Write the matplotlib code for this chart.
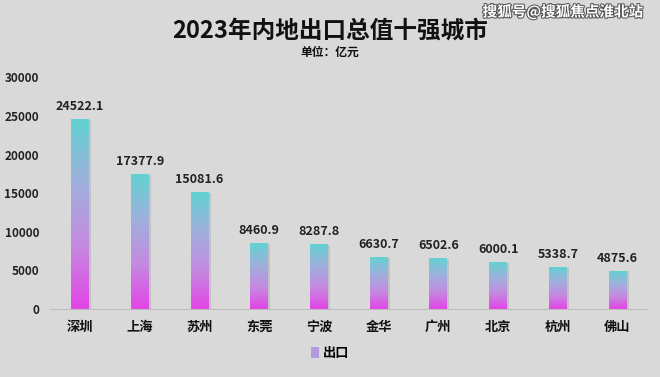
import numpy as np
import matplotlib.pyplot as plt
from matplotlib.colors import LinearSegmentedColormap
from matplotlib.patches import Patch
import matplotlib.patheffects as pe

plt.rcParams['font.family'] = ['Noto Sans CJK SC', 'DejaVu Sans']

cities = ['深圳', '上海', '苏州', '东莞', '宁波', '金华', '广州', '北京', '杭州', '佛山']
exports = [24522.1, 17377.9, 15081.6, 8460.9, 8287.8, 6630.7, 6502.6, 6000.1, 5338.7, 4875.6]
yticks = [0, 5000, 10000, 15000, 20000, 25000, 30000]

bg = '#d9d9d9'
cmap = LinearSegmentedColormap.from_list('grad', ['#e344e6', '#c48ae0', '#9fb0dc', '#62d2d2'])

fig = plt.figure(figsize=(6.6, 3.77), dpi=100, facecolor=bg)
ax = fig.add_axes([0.076, 0.18, 0.905, 0.615])
ax.set_facecolor(bg)

x = np.arange(len(cities))
w = 0.3
grad = np.linspace(0, 1, 256).reshape(-1, 1)
for xi, v in zip(x, exports):
    # soft shadow on the right
    ax.bar(xi + 0.035, v, w, bottom=0, color='#a0a0a0', alpha=0.4, zorder=1)
    ax.imshow(grad, cmap=cmap, origin='lower', aspect='auto',
              extent=[xi - w / 2, xi + w / 2, 0, v], zorder=2)
    ax.text(xi, v + 900, f'{v:.1f}', ha='center', va='bottom', fontsize=9,
            fontweight='bold', color='#222222')

ax.set_xlim(-0.5, len(cities) - 0.5)
ax.set_ylim(0, 30000)
ax.set_yticks(yticks)
ax.set_yticklabels([str(t) for t in yticks], fontsize=8.5, fontweight='bold', color='#222222')
ax.set_xticks(x)
ax.set_xticklabels(cities, fontsize=9.5, fontweight='bold', color='#111111')
ax.tick_params(axis='both', length=0)
ax.tick_params(axis='y', pad=8)
ax.tick_params(axis='x', pad=8)
for s in ['top', 'right', 'left']:
    ax.spines[s].set_visible(False)
ax.spines['bottom'].set_color('#bdbdbd')

fig.text(0.5, 0.918, '2023年内地出口总值十强城市', ha='center', va='center',
         fontsize=17, fontweight='bold', color='#111111')
fig.text(0.5, 0.862, '单位：亿元', ha='center', va='center', fontsize=8.5,
         fontweight='bold', color='#111111')
fig.text(0.975, 0.968, '搜狐号@搜狐焦点淮北站', ha='right', va='center', fontsize=10.5,
         fontweight='bold', color='white',
         path_effects=[pe.withStroke(linewidth=1.5, foreground='#555555')])

leg = fig.legend(handles=[Patch(facecolor='#b49ae0', label='出口')], loc='center',
                 bbox_to_anchor=(0.5, 0.063), frameon=False, handlelength=0.6,
                 handleheight=0.9, handletextpad=0.3, prop={'size': 9.5, 'weight': 'bold'})

fig.savefig('out.png', dpi=100, facecolor=bg)
